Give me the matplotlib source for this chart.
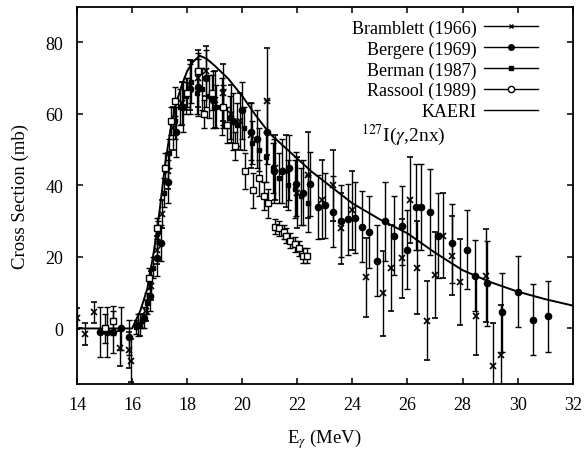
import matplotlib
matplotlib.use("Agg")
import matplotlib.pyplot as plt
from matplotlib.lines import Line2D

plt.rcParams["font.family"] = ["Liberation Serif", "DejaVu Serif"]
plt.rcParams["mathtext.fontset"] = "stix"

# Bramblett (1966)
bram_e = [14.0, 14.3, 14.6, 15.56, 15.9, 15.95, 16.3, 16.5, 16.7, 16.9, 17.1, 17.3, 17.5, 17.8,
          18.1, 18.4, 18.7, 19.0, 19.3, 19.6, 19.9, 20.3, 20.9, 21.2, 21.6, 22.0, 22.4, 22.9,
          23.3, 23.6, 24.0, 24.5, 25.1, 25.4, 25.8, 26.1, 26.35, 26.7, 27.0, 27.3, 27.6, 27.9,
          28.5, 28.85, 29.1, 29.4]
bram_s = [2.8, -1.5, 4.5, -5.6, -6.0, -9.0, 1.0, 5.0, 12.0, 22.0, 32.0, 44.0, 56.0, 63.0,
          68.0, 70.0, 72.0, 64.0, 66.0, 60.0, 58.0, 54.0, 63.5, 45.0, 44.0, 38.0, 43.0, 36.0,
          40.0, 28.0, 33.0, 14.3, 9.8, 17.0, 19.6, 36.0, 17.0, 2.2, 15.0, 26.0, 20.4, 13.0,
          3.6, 14.8, -10.6, -7.3]
bram_err = [3, 3, 3, 5, 5, 6, 3, 3, 4, 4, 4, 5, 6, 6,
            7, 8, 7, 8, 8, 8, 8, 9, 15, 9, 10, 10, 12, 11,
            10, 10, 11, 11, 12, 12, 11, 12, 13, 11, 12, 12, 11, 12,
            11, 13, 12, 14]

# Bergere (1969)
berg_e = [14.85, 15.1, 15.3, 15.6, 15.9, 16.2, 16.45, 16.65, 16.9, 17.05, 17.3, 17.6, 17.85,
          18.1, 18.4, 18.7, 18.95, 19.25, 19.65, 20.0, 20.3, 20.55, 20.9, 21.15, 21.45, 21.7,
          21.95, 22.2, 22.45, 22.75, 23.0, 23.3, 23.6, 23.85, 24.1, 24.35, 24.6, 24.9, 25.2,
          25.5, 25.8, 26.0, 26.3, 26.5, 26.8, 27.1, 27.6, 28.15, 28.45, 28.9, 29.45, 30.0,
          30.55, 31.1]
berg_s = [-1.0, -1.0, -1.0, 0.0, -2.5, 1.0, 3.0, 9.0, 19.6, 24.0, 41.0, 55.0, 62.0,
          67.0, 67.5, 70.0, 64.0, 62.0, 58.0, 61.0, 55.0, 53.0, 55.0, 44.0, 44.0, 45.0,
          40.5, 38.0, 40.5, 34.0, 34.4, 32.7, 30.0, 30.5, 31.0, 28.5, 27.0, 19.0, 30.0,
          26.0, 28.8, 22.0, 34.0, 34.0, 32.5, 26.0, 23.8, 22.0, 14.8, 12.6, 4.5, 10.3,
          2.5, 3.4]
berg_err = [7, 7, 6, 6, 5, 3, 3, 4, 5, 5, 6, 7, 7,
            7, 8, 8, 8, 8, 8, 8, 8, 8, 9, 9, 9, 9,
            9, 9, 9, 9, 9, 10, 10, 10, 10, 10, 10, 10, 11,
            11, 11, 11, 12, 12, 12, 12, 11, 11, 10, 12, 11, 10,
            10, 10]

# Berman (1987)
berm_e = [16.15, 16.35, 16.55, 16.75, 16.95, 17.15, 17.35, 17.55, 17.75, 17.95, 18.15, 18.35,
          18.55, 18.8, 19.05, 19.3, 19.55, 19.8, 20.05, 20.35, 20.6, 20.85, 21.1, 21.35, 21.65,
          21.9, 22.15, 22.4]
berm_s = [0.5, 2.0, 7.0, 17.0, 27.0, 38.0, 49.0, 58.0, 62.0, 65.0, 69.0, 66.0,
          67.0, 65.0, 62.0, 62.0, 59.0, 57.0, 56.0, 52.0, 50.0, 48.0, 45.0, 42.0, 40.0,
          39.0, 37.0, 35.0]
berm_err = [2, 2, 3, 3, 3, 4, 4, 5, 5, 5, 6, 6,
            6, 6, 6, 6, 6, 6, 6, 6, 6, 7, 7, 7, 7,
            8, 8, 8]

# Rassool (1989)
rass_e = [15.0, 15.3, 16.6, 16.9, 17.2, 17.4, 17.55, 18.0, 18.4, 18.6, 18.9, 19.3, 19.45,
          19.75, 20.1, 20.4, 20.6, 20.8, 20.95, 21.2, 21.35, 21.5, 21.6, 21.75, 21.9, 22.05,
          22.2, 22.35]
rass_s = [0.0, 2.2, 14.0, 28.0, 45.0, 58.0, 63.5, 66.0, 72.0, 60.0, 66.0, 62.0, 57.0,
          51.0, 44.0, 38.6, 42.0, 37.0, 35.0, 28.5, 28.0, 27.0, 26.0, 24.6, 23.5, 22.4,
          20.4, 20.4]
rass_err = [4, 4, 3, 3, 4, 4, 4, 4, 5, 4, 5, 5, 5,
            4, 5, 5, 5, 4, 4, 2, 2, 2, 2, 2, 2, 2,
            2, 2]

# KAERI evaluation
kaeri_e = [14.0, 15.0, 16.0, 16.3, 16.55, 16.8, 17.0, 17.2, 17.4, 17.6, 17.8, 18.0, 18.2,
           18.45, 18.7, 19.0, 19.5, 20.0, 20.5, 21.0, 21.5, 22.0, 22.5, 23.0, 23.5, 24.0,
           25.0, 26.0, 27.0, 28.0, 29.0, 30.0, 31.0, 32.0]
kaeri_s = [0.0, 0.0, 0.0, 5.0, 11.0, 22.0, 33.0, 46.0, 56.0, 63.0, 68.0, 72.0, 74.5,
           76.3, 75.5, 73.5, 69.8, 65.0, 59.5, 54.5, 51.0, 47.5, 44.0, 41.0, 38.0, 35.0,
           30.5, 26.6, 21.2, 16.3, 13.0, 10.3, 8.2, 6.4]

fig = plt.figure(figsize=(5.88, 4.56), dpi=100)
ax = fig.add_axes([0.131, 0.156, 0.843, 0.827])

eb = dict(color="black", ecolor="black", elinewidth=1.0, capsize=2.4, capthick=1.0,
          linestyle="none")
ax.errorbar(bram_e, bram_s, yerr=bram_err, marker="x", markersize=4, markeredgewidth=1.2, **eb)
ax.errorbar(berg_e, berg_s, yerr=berg_err, marker="o", markersize=4.5, **eb)
ax.errorbar(berm_e, berm_s, yerr=berm_err, marker="s", markersize=3.5, **eb)
ax.errorbar(rass_e, rass_s, yerr=rass_err, marker="s", markersize=5,
            markerfacecolor="white", markeredgewidth=1.0, **eb)
ax.plot(kaeri_e, kaeri_s, color="black", lw=1.4)

handles = [
    Line2D([], [], color="black", lw=1.0, marker="x", markersize=3.5),
    Line2D([], [], color="black", lw=1.0, marker="o", markersize=4),
    Line2D([], [], color="black", lw=1.0, marker="s", markersize=3),
    Line2D([], [], color="black", lw=1.0, marker="o", markersize=4.5,
           markerfacecolor="white"),
    Line2D([], [], color="black", lw=1.0),
]
labels = ["Bramblett (1966)", "Bergere (1969)", "Berman (1987)", "Rassool (1989)", "KAERI"]
ax.legend(handles, labels, loc="upper right", bbox_to_anchor=(0.955, 1.0), frameon=False,
          markerfirst=False, fontsize=13, handlelength=3.0, labelspacing=0.2,
          borderaxespad=0.3, handletextpad=0.4)

ax.text(24.3, 52.5, r"$^{127}$I($\gamma$,2nx)", fontsize=14)

ax.set_xlim(14, 32)
ax.set_ylim(-15.5, 90)
ax.set_xticks(range(14, 33, 2))
ax.set_yticks([0, 20, 40, 60, 80])
ax.tick_params(direction="in", top=True, right=True, length=4, width=1.1, labelsize=13)
ax.tick_params(axis="x", pad=9)
ax.tick_params(axis="y", pad=10)
ax.set_xlabel(r"E$_\gamma$ (MeV)", fontsize=13.5, labelpad=9)
ax.set_ylabel("Cross Section (mb)", fontsize=13.5, labelpad=12)
for s in ax.spines.values():
    s.set_linewidth(1.3)

fig.savefig("out.png", dpi=100)
